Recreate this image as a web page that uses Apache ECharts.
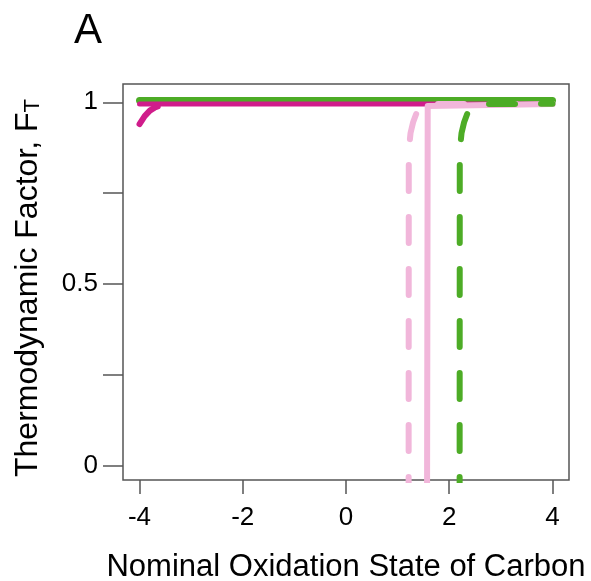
<!DOCTYPE html>
<html>
<head>
<meta charset="utf-8">
<script src="https://cdn.jsdelivr.net/npm/echarts@6/dist/echarts.min.js"></script>
<style>
html,body{margin:0;padding:0;background:#fff;}
#chart{width:591px;height:581px;}
</style>
</head>
<body>
<div id="chart"></div>
<script>
// ---- data ----
const xTicks = [-4, -2, 0, 2, 4];
const yTicks = [0, 0.25, 0.5, 0.75, 1];
const yLabels = [0, 0.5, 1];

const greenSolidX = [-4, 4];
const greenSolidY = [1.005, 1.005];

const magentaSolidX = [-4, 4];
const magentaSolidY = [0.995, 0.995];

const magentaDashX = [-4, -3.9, -3.8, -3.7, -3.6, -3.5, -3.3];
const magentaDashY = [0.94, 0.962, 0.977, 0.986, 0.991, 0.994, 0.995];

const pinkDashX = [1.213, 1.216, 1.225, 1.25, 1.3, 1.36, 1.42, 1.5, 1.6, 4];
const pinkDashY = [-0.104, 0.83, 0.88, 0.915, 0.945, 0.968, 0.982, 0.99, 0.995, 0.995];

const pinkSolidX = [1.57, 1.583, 1.592, 4];
const pinkSolidY = [-0.1, 0.99, 0.995, 0.995];

const greenDashX = [2.201, 2.204, 2.213, 2.238, 2.288, 2.348, 2.408, 2.488, 2.588, 4];
const greenDashY = [-0.104, 0.83, 0.88, 0.915, 0.945, 0.968, 0.982, 0.99, 0.995, 0.996];

const MAGENTA = '#D01C8B', PINK = '#F1B6DA', GREEN = '#4DAC26';
const FONT = '"Liberation Sans", Arial, sans-serif';

function pairs(xs, ys) { return xs.map((x, i) => [x, ys[i]]); }
function line(name, xs, ys, color, width, dashed) {
  return {
    name: name, type: 'line', data: pairs(xs, ys), symbol: 'none', smooth: false,
    animation: false, clip: true,
    lineStyle: { color: color, width: width, cap: 'round', join: 'round',
                 type: dashed ? [26, 26] : 'solid' }
  };
}

const chart = echarts.init(document.getElementById('chart'), null, { renderer: 'canvas' });
chart.setOption({
  animation: false,
  backgroundColor: '#fff',
  textStyle: { fontFamily: FONT },
  graphic: [{
    type: 'text', x: 88, y: 31,
    style: { text: 'A', font: '42px ' + FONT, fill: '#000', align: 'center', verticalAlign: 'middle' }
  }],
  grid: { left: 123, top: 84, width: 446, height: 396, show: true,
          outerBoundsMode: 'none', containLabel: false,
          borderColor: '#555', borderWidth: 1.5, backgroundColor: 'transparent' },
  xAxis: {
    type: 'value', min: -4.32, max: 4.32,
    axisLine: { show: false, onZero: false },
    splitLine: { show: false },
    axisTick: { show: true, length: 14, inside: false, customValues: xTicks,
                lineStyle: { color: '#555', width: 1.5 } },
    axisLabel: { customValues: xTicks, fontSize: 26, color: '#000', margin: 25, fontFamily: FONT },
    name: 'Nominal Oxidation State of Carbon', nameLocation: 'middle', nameGap: 72,
    nameTextStyle: { fontSize: 31, color: '#000', fontFamily: FONT }
  },
  yAxis: {
    type: 'value', min: -0.0404, max: 1.0504,
    axisLine: { show: false, onZero: false },
    splitLine: { show: false },
    axisTick: { show: true, length: 20, inside: false, customValues: yTicks,
                lineStyle: { color: '#555', width: 1.5 } },
    axisLabel: { customValues: yLabels, fontSize: 26, color: '#000', margin: 25, fontFamily: FONT },
    name: '{m|Thermodynamic Factor, F}{s|T}', nameLocation: 'middle', nameGap: 79, nameRotate: 90,
    nameTextStyle: {
      color: '#000', fontFamily: FONT, padding: [0, 12, 0, 0],
      rich: {
        m: { fontSize: 32, lineHeight: 32, color: '#000', fontFamily: FONT },
        s: { fontSize: 22, lineHeight: 12, verticalAlign: 'bottom', color: '#000', fontFamily: FONT }
      }
    }
  },
  series: [
    line('green solid', greenSolidX, greenSolidY, GREEN, 7, false),
    line('magenta dashed', magentaDashX, magentaDashY, MAGENTA, 6, true),
    line('magenta solid', magentaSolidX, magentaSolidY, MAGENTA, 5, false),
    line('pink dashed', pinkDashX, pinkDashY, PINK, 6, true),
    line('pink solid', pinkSolidX, pinkSolidY, PINK, 6, false),
    line('green dashed', greenDashX, greenDashY, GREEN, 6, true)
  ]
});
</script>
</body>
</html>
